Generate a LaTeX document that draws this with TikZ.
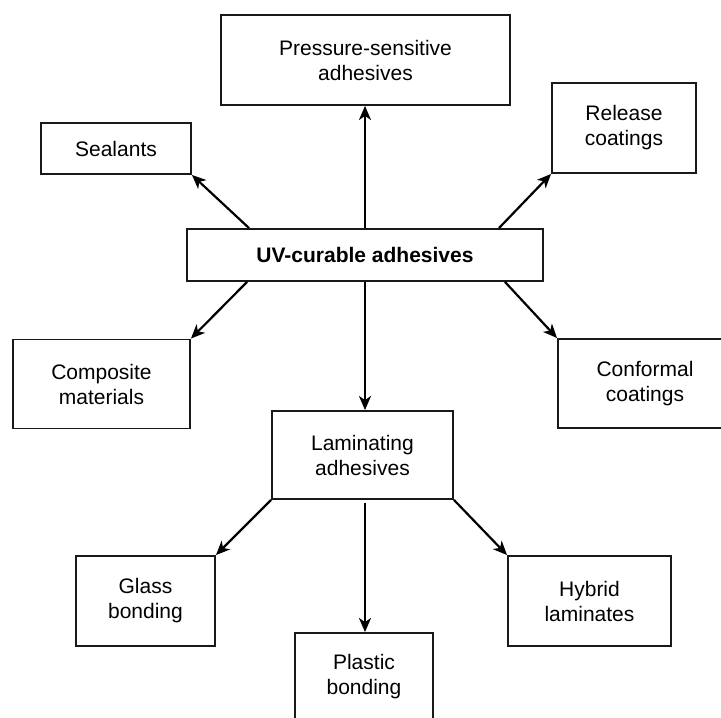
\documentclass[tikz,border=0pt]{standalone}
\usepackage{fontspec}
\setmainfont{Liberation Sans}
\usepackage{xcolor}
\usepackage{tikz}
\usetikzlibrary{arrows.meta}
\colorlet{boxline}{black!90}

\begin{document}
\begin{tikzpicture}[x=1pt,y=-1pt,>={Stealth[length=14pt,width=12pt,inset=4pt]},
  appbox/.style={draw=boxline,line width=1.9pt,align=center,inner sep=0pt,
    font=\fontsize{21}{25}\selectfont},
  link/.style={->,line width=2.2pt}]
\clip (0,0) rectangle (721,718);
\node[appbox,font=\fontsize{21}{25}\selectfont\bfseries,minimum width=356pt,minimum height=52pt] (uv) at (365,255) {UV-curable adhesives};
\node[appbox,minimum width=289pt,minimum height=90pt] (psa) at (365.5,60) {Pressure-sensitive\\adhesives};
\node[appbox,minimum width=150pt,minimum height=51pt] (seal) at (116,148.5) {Sealants};
\node[appbox,minimum width=144pt,minimum height=90pt] (rel) at (624,128) {Release\\coatings};
\node[appbox,minimum width=177pt,minimum height=89pt] (comp) at (101.5,384) {Composite\\materials};
\node[appbox,minimum width=174pt,minimum height=89pt] (conf) at (645,383.5) {Conformal\\coatings};
\node[appbox,minimum width=181pt,minimum height=88pt] (lam) at (362.5,455) {Laminating\\adhesives};
\node[appbox,minimum width=139pt,minimum height=90pt] (glass) at (145.5,601) {Glass\\bonding};
\node[appbox,minimum width=163pt,minimum height=90pt] (hyb) at (589.5,601) {Hybrid\\laminates};
\node[appbox,minimum width=138pt,minimum height=88pt] (plas) at (364,677) {Plastic\\bonding};
% from the central box
\draw[link] ([xshift=-116pt]uv.north) -- (seal.south east);
\draw[link] (uv.north) -- (uv.north |- psa.south);
\draw[link] ([xshift=134pt]uv.north) -- (rel.south west);
\draw[link] ([xshift=-118pt]uv.south) -- (comp.north east);
\draw[link] ([xshift=140pt]uv.south) -- (conf.north west);
\draw[link] (uv.south) -- (uv.south |- lam.north);
% from the laminating box
\draw[link] (lam.south west) -- (glass.north east);
\draw[link] ([xshift=2.5pt,yshift=-3pt]lam.south) -- ([xshift=2.5pt]lam.south |- plas.north);
\draw[link] (lam.south east) -- (hyb.north west);
\end{tikzpicture}
\end{document}
